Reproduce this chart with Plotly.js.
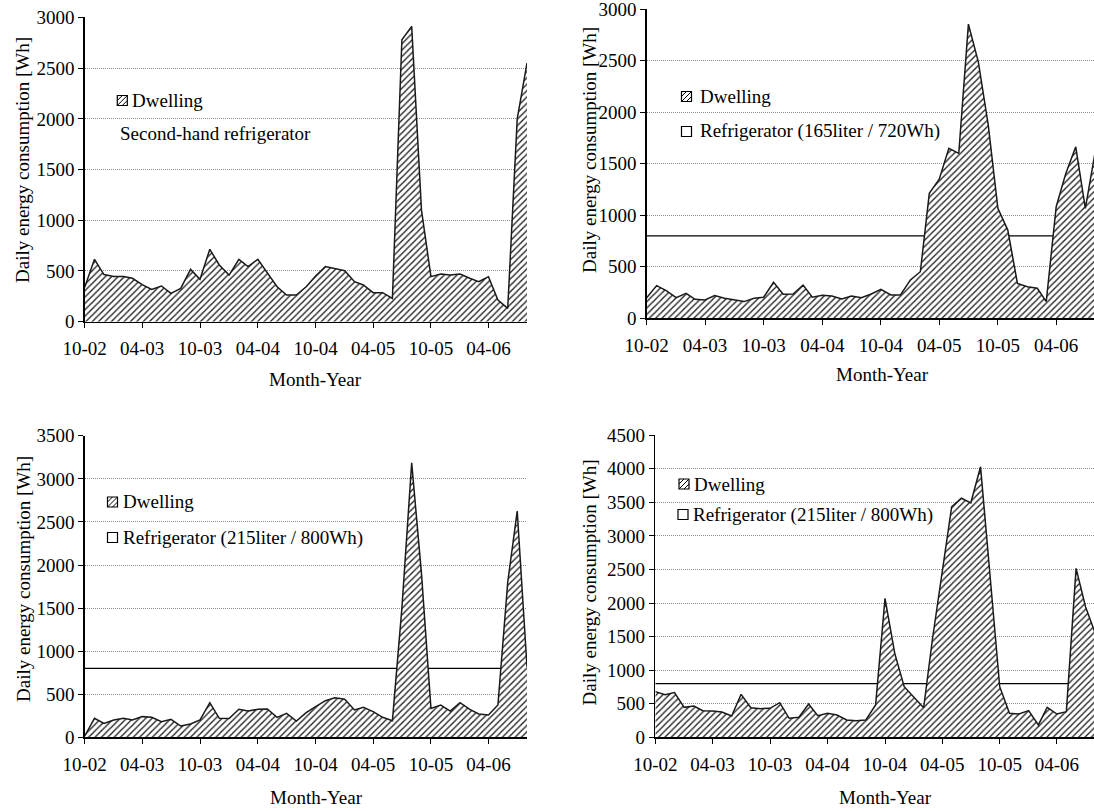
<!DOCTYPE html>
<html><head><meta charset="utf-8">
<script src="https://cdn.plot.ly/plotly-3.0.1.min.js"></script>
<style>html,body{margin:0;padding:0;background:#fff}#chart{width:1094px;height:811px}</style>
</head><body><div id="chart"></div>
<script>
// Month axis (Month-Year), Oct 2002 .. Aug 2006
const months = ['2002-10','2002-11','2002-12',
  '2003-01','2003-02','2003-03','2003-04','2003-05','2003-06','2003-07','2003-08','2003-09','2003-10','2003-11','2003-12',
  '2004-01','2004-02','2004-03','2004-04','2004-05','2004-06','2004-07','2004-08','2004-09','2004-10','2004-11','2004-12',
  '2005-01','2005-02','2005-03','2005-04','2005-05','2005-06','2005-07','2005-08','2005-09','2005-10','2005-11','2005-12',
  '2006-01','2006-02','2006-03','2006-04','2006-05','2006-06','2006-07','2006-08'];

// Daily energy consumption of the dwelling [Wh]
const dwelling1 = [340,615,465,445,445,428,365,319,352,280,329,516,418,714,559,460,615,543,615,477,345,263,263,345,450,543,526,503,395,362,286,286,230,2780,2912,1100,444,470,460,470,428,395,444,214,132,2000,2550];
const dwelling2 = [200,317,268,200,242,184,178,220,194,178,162,194,204,349,233,236,323,204,223,217,187,217,200,236,281,226,226,372,452,1212,1350,1650,1600,2854,2489,1875,1067,856,339,307,291,162,1083,1406,1664,1067,1620];
const dwelling3 = [15,220,162,201,220,201,240,232,182,209,131,155,201,402,220,217,325,305,325,329,232,278,189,286,356,425,460,441,317,348,298,232,193,1500,3186,1900,336,375,305,402,325,271,259,375,1800,2627,819];
const dwelling4 = [680,635,665,446,466,397,392,377,317,640,441,427,432,516,283,298,496,322,357,332,258,248,258,481,2068,1250,754,605,441,1464,2487,3430,3560,3492,4028,2300,754,357,347,397,184,446,347,382,2515,1944,1550];

// Refrigerator reference consumption [Wh] (null = not shown)
const fridge = [null, 800, 800, 800];

// Texts
const legendDwelling = 'Dwelling';
const legendSecond = ['Second-hand refrigerator', 'Refrigerator (165liter / 720Wh)', 'Refrigerator (215liter / 800Wh)', 'Refrigerator (215liter / 800Wh)'];
const xTitle = 'Month-Year';
const yTitle = 'Daily energy consumption [Wh]';
const yMax = [3000, 3000, 3500, 4500];
const xEnd = ['2006-08-01', '2006-07-28', '2006-08-01', '2006-07-28'];

const W = 1094, H = 811;
const fx = p => p / W, fy = p => 1 - p / H;
const FONT = 'Liberation Serif';

// pixel layout of each panel
const panels = [
  {x:[84.7,527], y:[17.3,321.7], xt:[315,379], yt:[23,160], sym1:[122.3,100.5], t1:[131.3,100.5], sym2:null, t2:[118.7,133.5]},
  {x:[646.7,1094], y:[9,318.3], xt:[882,374], yt:[589,150], sym1:[686.5,96.5], t1:[699.3,96], sym2:[686.5,131.5], t2:[699.3,131]},
  {x:[84.7,527], y:[435.7,737.3], xt:[316.6,797.5], yt:[23,579], sym1:[112.5,502], t1:[122,502], sym2:[112.5,537.5], t2:[122,537.5]},
  {x:[655.3,1094], y:[435,737.3], xt:[885,797.5], yt:[589,582.5], sym1:[684,484], t1:[692.7,484.5], sym2:[683,514.5], t2:[691.7,514.5]}
];
const dwellings = [dwelling1, dwelling2, dwelling3, dwelling4];

const traces = [], shapes = [], annotations = [];
const layout = {
  width: W, height: H, margin: {l:0, r:0, t:0, b:0},
  paper_bgcolor: '#fff', plot_bgcolor: '#fff', showlegend: false,
  font: {family: FONT, size: 19, color: '#000'}
};

function symbol(c, hatched) {
  const s = 10, x0 = c[0] - s/2, x1 = c[0] + s/2, y0 = c[1] - s/2, y1 = c[1] + s/2;
  shapes.push({type:'rect', xref:'paper', yref:'paper', x0:fx(x0), x1:fx(x1), y0:fy(y1), y1:fy(y0),
    line:{color:'#000', width:1.2}, fillcolor:'#fff', layer:'above'});
  if (hatched) {
    const P = (x, y) => fx(x) + ',' + fy(y);
    const h = s / 2;
    const path = 'M' + P(x0, y1) + 'L' + P(x1, y0) +
                 'M' + P(x0, y0 + h) + 'L' + P(x0 + h, y0) +
                 'M' + P(x0 + h, y1) + 'L' + P(x1, y0 + h);
    shapes.push({type:'path', xref:'paper', yref:'paper', path: path, line:{color:'#000', width:1}, layer:'above'});
  }
}

panels.forEach((p, i) => {
  const n = i + 1, sx = n === 1 ? '' : String(n);
  const xa = 'x' + sx, ya = 'y' + sx;
  if (fridge[i] !== null) {
    traces.push({type:'scatter', mode:'lines', xaxis: xa, yaxis: ya,
      x: [months[0], months[months.length - 1]], y: [fridge[i], fridge[i]],
      line: {color:'#000', width:1.3}, hoverinfo:'skip', name:'Refrigerator'});
  }
  traces.push({type:'scatter', mode:'lines', xaxis: xa, yaxis: ya,
    x: months, y: dwellings[i], fill:'tozeroy',
    fillcolor:'#fff',
    fillpattern: {shape:'/', fgcolor:'#222', bgcolor:'#fff', size:4.5, solidity:0.3, fgopacity:1},
    line: {color:'#1a1a1a', width:1.5}, name:'Dwelling'});

  layout['xaxis' + sx] = {
    domain: [fx(p.x[0]), fx(p.x[1])], anchor: ya,
    type:'date', range: [months[0] + '-01', xEnd[i]],
    tick0: '2002-10-01', dtick: 'M6', tickformat: '%m-%y',
    ticks:'outside', ticklen:5, tickwidth:1, tickcolor:'#000',
    showline:true, linecolor:'#000', linewidth:1.5, mirror:false,
    showgrid:false, zeroline:false, ticklabelstandoff: 4, ticklabeloverflow:'allow',
    tickfont:{family:FONT, size:19, color:'#000'}
  };
  layout['yaxis' + sx] = {
    domain: [fy(p.y[1]), fy(p.y[0])], anchor: xa,
    range: [0, yMax[i] * 1.0004], tick0: 0, dtick: 500,
    ticks:'outside', ticklen:5, tickwidth:1, tickcolor:'#000',
    showline:true, linecolor:'#000', linewidth:1.5,
    showgrid:true, gridcolor:'#8c8c8c', gridwidth:1, griddash:'1px,1px',
    zeroline:false, ticklabeloverflow:'allow',
    tickfont:{family:FONT, size:19, color:'#000'}
  };

  annotations.push({xref:'paper', yref:'paper', x: fx(p.xt[0]), y: fy(p.xt[1]), xanchor:'center', yanchor:'middle',
    text: xTitle, showarrow:false, font:{family:FONT, size:19, color:'#000'}, borderpad:0});
  annotations.push({xref:'paper', yref:'paper', x: fx(p.yt[0]), y: fy(p.yt[1]), xanchor:'center', yanchor:'middle',
    text: yTitle, textangle:-90, showarrow:false, font:{family:FONT, size:19, color:'#000'}, borderpad:0});

  symbol(p.sym1, true);
  annotations.push({xref:'paper', yref:'paper', x: fx(p.t1[0]), y: fy(p.t1[1]), xanchor:'left', yanchor:'middle',
    text: legendDwelling, showarrow:false, font:{family:FONT, size:19, color:'#000'}, borderpad:0});
  if (p.sym2) symbol(p.sym2, false);
  annotations.push({xref:'paper', yref:'paper', x: fx(p.t2[0]), y: fy(p.t2[1]), xanchor:'left', yanchor:'middle',
    text: legendSecond[i], showarrow:false, font:{family:FONT, size:19, color:'#000'}, borderpad:0});
});

layout.shapes = shapes;
layout.annotations = annotations;

Plotly.newPlot('chart', traces, layout, {staticPlot:true, displayModeBar:false});
</script>
</body></html>
